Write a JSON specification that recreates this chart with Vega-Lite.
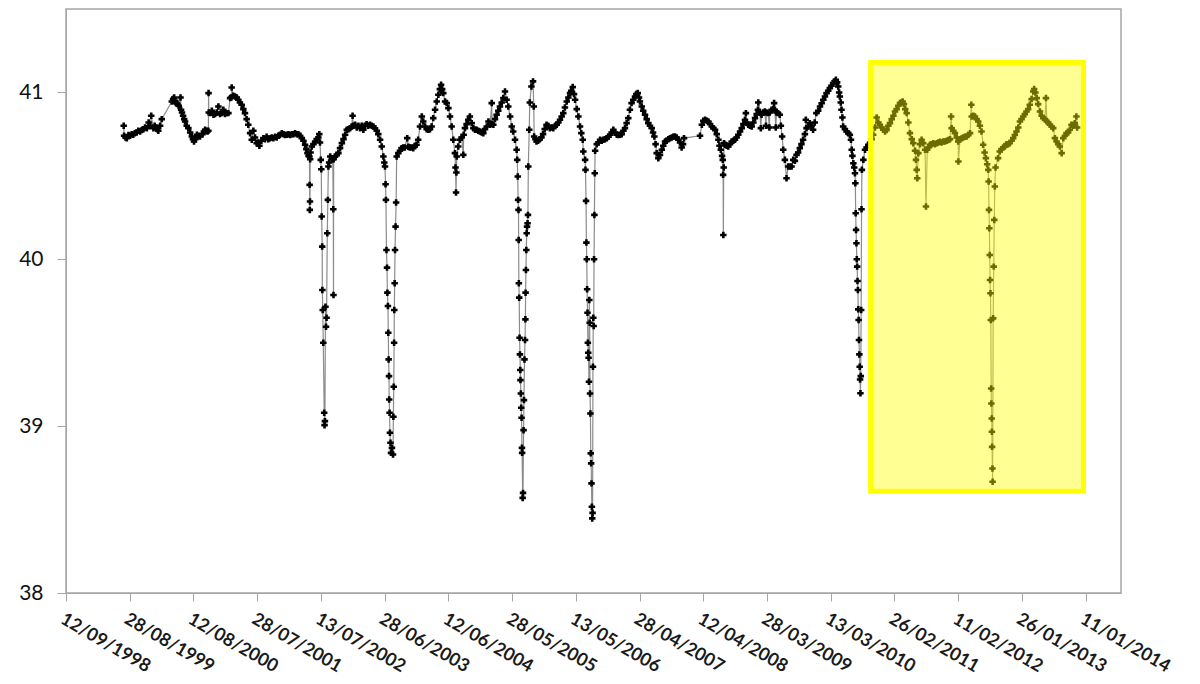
{
"$schema": "https://vega.github.io/schema/vega-lite/v6.json",
"width": 1055, "height": 584,
"autosize": {"type": "none"},
"padding": {"left": 66, "top": 9, "right": 79, "bottom": 91},
"background": "white",
"config": {"view": {"stroke": "#a6a6a6", "strokeWidth": 1.5}, "font": "Lato"},
"datasets": {
"highlight": [{"date": "2010-10-18", "date2": "2013-12-30", "value": 38.61, "value2": 41.18}],
"series": [
{"date":"1999-07-26","value":40.80},{"date":"1999-07-28","value":40.74},{"date":"1999-08-05","value":40.73},{"date":"1999-08-12","value":40.726},{"date":"1999-08-21","value":40.745},{"date":"1999-08-30","value":40.74},{"date":"1999-09-08","value":40.75},{"date":"1999-09-16","value":40.746},{"date":"1999-09-25","value":40.755},{"date":"1999-10-05","value":40.76},{"date":"1999-10-14","value":40.77},{"date":"1999-10-24","value":40.766},{"date":"1999-11-02","value":40.775},{"date":"1999-11-11","value":40.78},{"date":"1999-11-20","value":40.79},{"date":"1999-11-30","value":40.786},{"date":"1999-12-10","value":40.82},{"date":"1999-12-18","value":40.80},{"date":"1999-12-24","value":40.86},
{"date":"2000-01-05","value":40.786},{"date":"2000-01-12","value":40.80},{"date":"2000-01-19","value":40.79},{"date":"2000-01-26","value":40.78},{"date":"2000-02-01","value":40.77},{"date":"2000-02-11","value":40.80},{"date":"2000-02-20","value":40.84},{"date":"2000-04-15","value":40.946},{"date":"2000-04-22","value":40.96},{"date":"2000-04-28","value":40.97},{"date":"2000-05-04","value":40.95},{"date":"2000-05-09","value":40.936},{"date":"2000-05-16","value":40.93},{"date":"2000-05-23","value":40.92},{"date":"2000-06-02","value":40.97},{"date":"2000-06-05","value":40.896},{"date":"2000-06-10","value":40.88},{"date":"2000-06-16","value":40.86},{"date":"2000-06-22","value":40.84},{"date":"2000-06-27","value":40.826},{"date":"2000-07-06","value":40.80},{"date":"2000-07-15","value":40.786},{"date":"2000-07-25","value":40.76},{"date":"2000-08-03","value":40.736},{"date":"2000-08-09","value":40.72},{"date":"2000-08-15","value":40.706},{"date":"2000-08-23","value":40.72},{"date":"2000-08-31","value":40.746},{"date":"2000-09-08","value":40.74},{"date":"2000-09-17","value":40.736},{"date":"2000-10-01","value":40.75},{"date":"2000-10-08","value":40.765},{"date":"2000-10-15","value":40.776},{"date":"2000-10-22","value":40.77},{"date":"2000-10-28","value":40.766},{"date":"2000-11-02","value":40.77},{"date":"2000-11-03","value":40.996},{"date":"2000-11-04","value":40.88},{"date":"2000-11-12","value":40.876},{"date":"2000-11-21","value":40.89},{"date":"2000-11-30","value":40.866},{"date":"2000-12-09","value":40.87},{"date":"2000-12-18","value":40.88},{"date":"2000-12-27","value":40.916},
{"date":"2001-01-05","value":40.87},{"date":"2001-01-14","value":40.876},{"date":"2001-01-23","value":40.896},{"date":"2001-02-01","value":40.87},{"date":"2001-02-11","value":40.876},{"date":"2001-02-20","value":40.876},{"date":"2001-03-01","value":40.966},{"date":"2001-03-08","value":40.97},{"date":"2001-03-10","value":41.03},{"date":"2001-03-19","value":40.98},{"date":"2001-03-28","value":40.976},{"date":"2001-04-07","value":40.97},{"date":"2001-04-15","value":40.956},{"date":"2001-04-24","value":40.94},{"date":"2001-05-04","value":40.926},{"date":"2001-05-13","value":40.90},{"date":"2001-05-22","value":40.876},{"date":"2001-05-31","value":40.84},{"date":"2001-06-09","value":40.806},{"date":"2001-06-19","value":40.756},{"date":"2001-06-28","value":40.716},{"date":"2001-07-07","value":40.77},{"date":"2001-07-16","value":40.73},{"date":"2001-07-25","value":40.696},{"date":"2001-08-01","value":40.70},{"date":"2001-08-09","value":40.68},{"date":"2001-08-20","value":40.71},{"date":"2001-08-31","value":40.726},{"date":"2001-09-09","value":40.72},{"date":"2001-09-18","value":40.735},{"date":"2001-09-27","value":40.72},{"date":"2001-10-06","value":40.726},{"date":"2001-10-16","value":40.73},{"date":"2001-10-25","value":40.725},{"date":"2001-11-03","value":40.735},{"date":"2001-11-12","value":40.73},{"date":"2001-11-21","value":40.74},{"date":"2001-11-30","value":40.745},{"date":"2001-12-10","value":40.756},{"date":"2001-12-19","value":40.75},{"date":"2001-12-28","value":40.745},
{"date":"2002-01-07","value":40.746},{"date":"2002-01-16","value":40.75},{"date":"2002-01-25","value":40.745},{"date":"2002-02-03","value":40.75},{"date":"2002-02-12","value":40.75},{"date":"2002-02-21","value":40.755},{"date":"2002-03-03","value":40.75},{"date":"2002-03-11","value":40.75},{"date":"2002-03-21","value":40.74},{"date":"2002-03-30","value":40.726},{"date":"2002-04-08","value":40.71},{"date":"2002-04-17","value":40.686},{"date":"2002-04-24","value":40.66},{"date":"2002-04-30","value":40.636},{"date":"2002-05-06","value":40.62},{"date":"2002-05-11","value":40.616},{"date":"2002-05-12","value":40.446},{"date":"2002-05-13","value":40.296},{"date":"2002-05-14","value":40.346},{"date":"2002-05-15","value":40.60},{"date":"2002-05-17","value":40.64},{"date":"2002-05-24","value":40.676},{"date":"2002-06-02","value":40.69},{"date":"2002-06-11","value":40.706},{"date":"2002-06-20","value":40.72},{"date":"2002-06-29","value":40.73},{"date":"2002-07-04","value":40.75},{"date":"2002-07-08","value":40.70},{"date":"2002-07-12","value":40.596},{"date":"2002-07-15","value":40.54},{"date":"2002-07-17","value":40.256},{"date":"2002-07-20","value":40.076},{"date":"2002-07-21","value":39.816},{"date":"2002-07-23","value":39.696},{"date":"2002-07-26","value":39.50},{"date":"2002-07-31","value":39.08},{"date":"2002-08-02","value":39.006},{"date":"2002-08-04","value":39.03},{"date":"2002-08-07","value":39.716},{"date":"2002-08-10","value":39.596},{"date":"2002-08-13","value":39.65},{"date":"2002-08-17","value":40.156},{"date":"2002-08-20","value":40.356},{"date":"2002-08-23","value":40.556},{"date":"2002-08-27","value":40.58},{"date":"2002-09-02","value":40.616},{"date":"2002-09-11","value":40.606},{"date":"2002-09-16","value":40.60},{"date":"2002-09-19","value":40.30},{"date":"2002-09-20","value":39.786},{"date":"2002-09-21","value":40.60},{"date":"2002-09-29","value":40.616},{"date":"2002-10-08","value":40.626},{"date":"2002-10-17","value":40.636},{"date":"2002-10-26","value":40.666},{"date":"2002-11-05","value":40.696},{"date":"2002-11-14","value":40.72},{"date":"2002-11-23","value":40.746},{"date":"2002-12-02","value":40.776},{"date":"2002-12-11","value":40.78},{"date":"2002-12-20","value":40.786},{"date":"2002-12-29","value":40.796},
{"date":"2003-01-03","value":40.86},{"date":"2003-01-07","value":40.80},{"date":"2003-01-17","value":40.806},{"date":"2003-01-26","value":40.79},{"date":"2003-02-04","value":40.80},{"date":"2003-02-13","value":40.786},{"date":"2003-02-22","value":40.80},{"date":"2003-03-03","value":40.776},{"date":"2003-03-12","value":40.80},{"date":"2003-03-21","value":40.81},{"date":"2003-03-30","value":40.80},{"date":"2003-04-09","value":40.806},{"date":"2003-04-18","value":40.80},{"date":"2003-04-27","value":40.796},{"date":"2003-05-06","value":40.785},{"date":"2003-05-16","value":40.77},{"date":"2003-05-24","value":40.75},{"date":"2003-06-03","value":40.716},{"date":"2003-06-12","value":40.676},{"date":"2003-06-21","value":40.616},{"date":"2003-06-26","value":40.58},{"date":"2003-06-30","value":40.556},{"date":"2003-07-03","value":40.45},{"date":"2003-07-05","value":40.356},{"date":"2003-07-08","value":40.056},{"date":"2003-07-11","value":39.95},{"date":"2003-07-13","value":39.80},{"date":"2003-07-16","value":39.72},{"date":"2003-07-18","value":39.56},{"date":"2003-07-20","value":39.40},{"date":"2003-07-22","value":39.30},{"date":"2003-07-23","value":39.16},{"date":"2003-07-25","value":39.08},{"date":"2003-07-27","value":38.96},{"date":"2003-07-30","value":38.90},{"date":"2003-08-02","value":38.84},{"date":"2003-08-07","value":38.87},{"date":"2003-08-13","value":38.83},{"date":"2003-08-15","value":39.056},{"date":"2003-08-17","value":39.236},{"date":"2003-08-19","value":39.50},{"date":"2003-08-20","value":39.696},{"date":"2003-08-22","value":39.856},{"date":"2003-08-24","value":40.056},{"date":"2003-08-27","value":40.196},{"date":"2003-08-30","value":40.34},{"date":"2003-09-02","value":40.616},{"date":"2003-09-11","value":40.636},{"date":"2003-09-20","value":40.65},{"date":"2003-09-29","value":40.666},{"date":"2003-10-08","value":40.67},{"date":"2003-10-17","value":40.67},{"date":"2003-10-30","value":40.726},{"date":"2003-11-05","value":40.675},{"date":"2003-11-13","value":40.67},{"date":"2003-11-23","value":40.67},{"date":"2003-12-02","value":40.666},{"date":"2003-12-11","value":40.68},{"date":"2003-12-20","value":40.686},{"date":"2003-12-29","value":40.716},
{"date":"2004-01-08","value":40.796},{"date":"2004-01-18","value":40.856},{"date":"2004-01-26","value":40.826},{"date":"2004-02-05","value":40.796},{"date":"2004-02-14","value":40.78},{"date":"2004-02-23","value":40.776},{"date":"2004-03-03","value":40.78},{"date":"2004-03-12","value":40.796},{"date":"2004-03-21","value":40.846},{"date":"2004-03-31","value":40.896},{"date":"2004-04-09","value":40.946},{"date":"2004-04-18","value":40.986},{"date":"2004-04-26","value":41.02},{"date":"2004-05-03","value":41.046},{"date":"2004-05-09","value":41.02},{"date":"2004-05-15","value":40.996},{"date":"2004-05-25","value":40.946},{"date":"2004-06-03","value":40.936},{"date":"2004-06-12","value":40.906},{"date":"2004-06-21","value":40.856},{"date":"2004-06-30","value":40.796},{"date":"2004-07-09","value":40.716},{"date":"2004-07-18","value":40.636},{"date":"2004-07-21","value":40.55},{"date":"2004-07-24","value":40.40},{"date":"2004-07-26","value":40.52},{"date":"2004-07-28","value":40.616},{"date":"2004-08-05","value":40.676},{"date":"2004-08-14","value":40.716},{"date":"2004-08-24","value":40.73},{"date":"2004-09-02","value":40.626},{"date":"2004-09-04","value":40.746},{"date":"2004-09-11","value":40.786},{"date":"2004-09-20","value":40.81},{"date":"2004-09-29","value":40.836},{"date":"2004-10-08","value":40.856},{"date":"2004-10-18","value":40.816},{"date":"2004-10-27","value":40.786},{"date":"2004-11-05","value":40.776},{"date":"2004-11-14","value":40.776},{"date":"2004-11-23","value":40.77},{"date":"2004-12-02","value":40.766},{"date":"2004-12-12","value":40.76},{"date":"2004-12-21","value":40.756},{"date":"2004-12-30","value":40.78},
{"date":"2005-01-09","value":40.796},{"date":"2005-01-18","value":40.826},{"date":"2005-01-27","value":40.806},{"date":"2005-02-05","value":40.936},{"date":"2005-02-07","value":40.81},{"date":"2005-02-14","value":40.806},{"date":"2005-02-23","value":40.84},{"date":"2005-03-04","value":40.866},{"date":"2005-03-13","value":40.89},{"date":"2005-03-22","value":40.916},{"date":"2005-04-01","value":40.94},{"date":"2005-04-10","value":40.966},{"date":"2005-04-19","value":41.006},{"date":"2005-04-28","value":40.956},{"date":"2005-05-07","value":40.916},{"date":"2005-05-17","value":40.856},{"date":"2005-05-26","value":40.796},{"date":"2005-06-03","value":40.766},{"date":"2005-06-13","value":40.716},{"date":"2005-06-22","value":40.656},{"date":"2005-06-25","value":40.596},{"date":"2005-06-28","value":40.496},{"date":"2005-06-30","value":40.356},{"date":"2005-07-02","value":40.296},{"date":"2005-07-03","value":40.116},{"date":"2005-07-04","value":39.856},{"date":"2005-07-06","value":39.77},{"date":"2005-07-08","value":39.53},{"date":"2005-07-10","value":39.43},{"date":"2005-07-12","value":39.336},{"date":"2005-07-13","value":39.276},{"date":"2005-07-15","value":39.196},{"date":"2005-07-17","value":39.11},{"date":"2005-07-19","value":39.05},{"date":"2005-07-21","value":38.87},{"date":"2005-07-22","value":38.84},{"date":"2005-07-25","value":38.57},{"date":"2005-07-27","value":38.60},{"date":"2005-07-30","value":38.976},{"date":"2005-08-01","value":39.156},{"date":"2005-08-04","value":39.40},{"date":"2005-08-07","value":39.516},{"date":"2005-08-09","value":39.64},{"date":"2005-08-10","value":39.80},{"date":"2005-08-12","value":39.936},{"date":"2005-08-14","value":40.056},{"date":"2005-08-16","value":40.156},{"date":"2005-08-18","value":40.196},{"date":"2005-08-21","value":40.216},{"date":"2005-08-23","value":40.266},{"date":"2005-08-25","value":40.556},{"date":"2005-08-30","value":40.776},{"date":"2005-09-02","value":40.94},{"date":"2005-09-11","value":41.036},{"date":"2005-09-20","value":41.066},{"date":"2005-09-24","value":40.916},{"date":"2005-09-26","value":40.736},{"date":"2005-10-03","value":40.72},{"date":"2005-10-09","value":40.706},{"date":"2005-10-18","value":40.71},{"date":"2005-10-27","value":40.72},{"date":"2005-11-05","value":40.73},{"date":"2005-11-14","value":40.75},{"date":"2005-11-23","value":40.78},{"date":"2005-12-03","value":40.806},{"date":"2005-12-12","value":40.80},{"date":"2005-12-21","value":40.786},
{"date":"2006-01-01","value":40.79},{"date":"2006-01-09","value":40.786},{"date":"2006-01-19","value":40.80},{"date":"2006-01-28","value":40.806},{"date":"2006-02-06","value":40.82},{"date":"2006-02-15","value":40.836},{"date":"2006-02-24","value":40.856},{"date":"2006-03-05","value":40.876},{"date":"2006-03-14","value":40.91},{"date":"2006-03-24","value":40.946},{"date":"2006-04-02","value":40.97},{"date":"2006-04-11","value":40.996},{"date":"2006-04-18","value":41.01},{"date":"2006-04-26","value":41.032},{"date":"2006-05-03","value":40.99},{"date":"2006-05-09","value":40.956},{"date":"2006-05-18","value":40.90},{"date":"2006-05-27","value":40.856},{"date":"2006-06-05","value":40.796},{"date":"2006-06-12","value":40.756},{"date":"2006-06-20","value":40.716},{"date":"2006-06-23","value":40.646},{"date":"2006-07-03","value":40.596},{"date":"2006-07-05","value":40.536},{"date":"2006-07-08","value":40.35},{"date":"2006-07-10","value":40.10},{"date":"2006-07-12","value":40.00},{"date":"2006-07-14","value":39.82},{"date":"2006-07-16","value":39.68},{"date":"2006-07-18","value":39.50},{"date":"2006-07-20","value":39.44},{"date":"2006-07-22","value":39.41},{"date":"2006-07-24","value":39.266},{"date":"2006-07-26","value":39.756},{"date":"2006-07-28","value":39.62},{"date":"2006-07-30","value":39.196},{"date":"2006-08-01","value":39.076},{"date":"2006-08-03","value":38.837},{"date":"2006-08-05","value":38.777},{"date":"2006-08-07","value":38.657},{"date":"2006-08-09","value":38.517},{"date":"2006-08-11","value":38.447},{"date":"2006-08-13","value":38.48},{"date":"2006-08-15","value":39.356},{"date":"2006-08-17","value":39.65},{"date":"2006-08-19","value":39.60},{"date":"2006-08-21","value":40.00},{"date":"2006-08-23","value":40.266},{"date":"2006-08-25","value":40.516},{"date":"2006-08-27","value":40.65},{"date":"2006-09-05","value":40.69},{"date":"2006-09-14","value":40.70},{"date":"2006-09-23","value":40.716},{"date":"2006-10-02","value":40.71},{"date":"2006-10-11","value":40.716},{"date":"2006-10-20","value":40.72},{"date":"2006-10-30","value":40.726},{"date":"2006-11-08","value":40.735},{"date":"2006-11-17","value":40.746},{"date":"2006-11-26","value":40.76},{"date":"2006-12-05","value":40.776},{"date":"2006-12-14","value":40.76},{"date":"2006-12-24","value":40.746},
{"date":"2007-01-01","value":40.745},{"date":"2007-01-11","value":40.746},{"date":"2007-01-20","value":40.75},{"date":"2007-01-29","value":40.77},{"date":"2007-02-07","value":40.786},{"date":"2007-02-16","value":40.816},{"date":"2007-02-25","value":40.846},{"date":"2007-03-06","value":40.896},{"date":"2007-03-15","value":40.936},{"date":"2007-03-24","value":40.956},{"date":"2007-04-03","value":40.976},{"date":"2007-04-10","value":40.99},{"date":"2007-04-18","value":40.996},{"date":"2007-04-25","value":40.97},{"date":"2007-04-30","value":40.946},{"date":"2007-05-10","value":40.916},{"date":"2007-05-18","value":40.89},{"date":"2007-05-28","value":40.866},{"date":"2007-06-06","value":40.84},{"date":"2007-06-15","value":40.816},{"date":"2007-06-24","value":40.80},{"date":"2007-07-04","value":40.786},{"date":"2007-07-11","value":40.76},{"date":"2007-07-18","value":40.736},{"date":"2007-07-25","value":40.69},{"date":"2007-07-31","value":40.636},{"date":"2007-08-09","value":40.606},{"date":"2007-08-18","value":40.626},{"date":"2007-08-28","value":40.656},{"date":"2007-09-05","value":40.68},{"date":"2007-09-15","value":40.706},{"date":"2007-09-24","value":40.71},{"date":"2007-10-03","value":40.72},{"date":"2007-10-12","value":40.725},{"date":"2007-10-22","value":40.73},{"date":"2007-10-30","value":40.735},{"date":"2007-11-08","value":40.736},{"date":"2007-11-18","value":40.73},{"date":"2007-11-27","value":40.716},{"date":"2007-12-06","value":40.70},{"date":"2007-12-15","value":40.67},{"date":"2007-12-23","value":40.69},{"date":"2007-12-28","value":40.726},
{"date":"2008-03-25","value":40.74},{"date":"2008-04-04","value":40.806},{"date":"2008-04-12","value":40.83},{"date":"2008-04-22","value":40.836},{"date":"2008-05-01","value":40.83},{"date":"2008-05-10","value":40.826},{"date":"2008-05-19","value":40.81},{"date":"2008-05-29","value":40.796},{"date":"2008-06-06","value":40.785},{"date":"2008-06-16","value":40.776},{"date":"2008-06-25","value":40.75},{"date":"2008-07-04","value":40.716},{"date":"2008-07-10","value":40.68},{"date":"2008-07-17","value":40.656},{"date":"2008-07-24","value":40.62},{"date":"2008-07-28","value":40.596},{"date":"2008-07-30","value":40.506},{"date":"2008-07-31","value":40.146},{"date":"2008-08-02","value":40.55},{"date":"2008-08-04","value":40.696},{"date":"2008-08-09","value":40.686},{"date":"2008-08-18","value":40.68},{"date":"2008-08-27","value":40.676},{"date":"2008-09-06","value":40.69},{"date":"2008-09-15","value":40.706},{"date":"2008-09-24","value":40.71},{"date":"2008-10-03","value":40.716},{"date":"2008-10-12","value":40.73},{"date":"2008-10-21","value":40.746},{"date":"2008-10-31","value":40.766},{"date":"2008-11-09","value":40.786},{"date":"2008-11-18","value":40.81},{"date":"2008-11-27","value":40.836},{"date":"2008-12-02","value":40.876},{"date":"2008-12-06","value":40.82},{"date":"2008-12-15","value":40.806},{"date":"2008-12-24","value":40.80},
{"date":"2009-01-03","value":40.796},{"date":"2009-01-12","value":40.82},{"date":"2009-01-21","value":40.846},{"date":"2009-01-30","value":40.87},{"date":"2009-02-06","value":40.896},{"date":"2009-02-08","value":40.94},{"date":"2009-02-17","value":40.88},{"date":"2009-02-22","value":40.786},{"date":"2009-02-26","value":40.866},{"date":"2009-03-07","value":40.88},{"date":"2009-03-16","value":40.886},{"date":"2009-03-22","value":40.80},{"date":"2009-03-25","value":40.88},{"date":"2009-04-03","value":40.876},{"date":"2009-04-10","value":40.79},{"date":"2009-04-12","value":40.88},{"date":"2009-04-22","value":40.896},{"date":"2009-05-01","value":40.90},{"date":"2009-05-06","value":40.936},{"date":"2009-05-10","value":40.896},{"date":"2009-05-15","value":40.79},{"date":"2009-05-19","value":40.88},{"date":"2009-05-28","value":40.876},{"date":"2009-06-06","value":40.866},{"date":"2009-06-12","value":40.80},{"date":"2009-06-19","value":40.736},{"date":"2009-06-25","value":40.656},{"date":"2009-07-04","value":40.596},{"date":"2009-07-13","value":40.486},{"date":"2009-07-22","value":40.556},{"date":"2009-08-01","value":40.556},{"date":"2009-08-10","value":40.556},{"date":"2009-08-19","value":40.596},{"date":"2009-08-28","value":40.59},{"date":"2009-09-06","value":40.626},{"date":"2009-09-15","value":40.64},{"date":"2009-09-24","value":40.666},{"date":"2009-10-03","value":40.69},{"date":"2009-10-12","value":40.716},{"date":"2009-10-22","value":40.75},{"date":"2009-10-27","value":40.836},{"date":"2009-10-31","value":40.786},{"date":"2009-11-09","value":40.796},{"date":"2009-11-18","value":40.816},{"date":"2009-11-27","value":40.80},{"date":"2009-12-06","value":40.776},{"date":"2009-12-15","value":40.82},{"date":"2009-12-24","value":40.876},
{"date":"2010-01-03","value":40.89},{"date":"2010-01-13","value":40.916},{"date":"2010-01-22","value":40.935},{"date":"2010-01-31","value":40.956},{"date":"2010-02-09","value":40.976},{"date":"2010-02-18","value":40.996},{"date":"2010-02-27","value":41.01},{"date":"2010-03-08","value":41.026},{"date":"2010-03-17","value":41.04},{"date":"2010-03-26","value":41.056},{"date":"2010-04-03","value":41.066},{"date":"2010-04-10","value":41.076},{"date":"2010-04-17","value":41.06},{"date":"2010-04-23","value":41.036},{"date":"2010-04-28","value":41.00},{"date":"2010-05-02","value":40.976},{"date":"2010-05-07","value":40.94},{"date":"2010-05-11","value":40.896},{"date":"2010-05-16","value":40.85},{"date":"2010-05-20","value":40.796},{"date":"2010-05-30","value":40.78},{"date":"2010-06-08","value":40.766},{"date":"2010-06-17","value":40.756},{"date":"2010-06-26","value":40.746},{"date":"2010-07-02","value":40.716},{"date":"2010-07-06","value":40.656},{"date":"2010-07-10","value":40.62},{"date":"2010-07-15","value":40.576},{"date":"2010-07-20","value":40.55},{"date":"2010-07-24","value":40.516},{"date":"2010-07-26","value":40.456},{"date":"2010-07-28","value":40.276},{"date":"2010-07-30","value":40.176},{"date":"2010-08-01","value":40.096},{"date":"2010-08-03","value":40.00},{"date":"2010-08-05","value":39.956},{"date":"2010-08-07","value":39.87},{"date":"2010-08-09","value":39.816},{"date":"2010-08-11","value":39.70},{"date":"2010-08-13","value":39.636},{"date":"2010-08-15","value":39.516},{"date":"2010-08-17","value":39.43},{"date":"2010-08-19","value":39.356},{"date":"2010-08-21","value":39.28},{"date":"2010-08-23","value":39.197},{"date":"2010-08-25","value":39.30},{"date":"2010-08-27","value":39.696},{"date":"2010-08-29","value":40.30},{"date":"2010-08-31","value":40.536},{"date":"2010-09-08","value":40.596},{"date":"2010-09-17","value":40.656},{"date":"2010-09-26","value":40.67},{"date":"2010-10-05","value":40.686},{"date":"2010-10-14","value":40.696},{"date":"2010-10-24","value":40.72},{"date":"2010-11-01","value":40.746},{"date":"2010-11-11","value":40.79},{"date":"2010-11-20","value":40.85},{"date":"2010-11-29","value":40.82},{"date":"2010-12-08","value":40.806},{"date":"2010-12-17","value":40.79},{"date":"2010-12-26","value":40.776},
{"date":"2011-01-05","value":40.766},{"date":"2011-01-14","value":40.775},{"date":"2011-01-23","value":40.80},{"date":"2011-02-01","value":40.816},{"date":"2011-02-11","value":40.84},{"date":"2011-02-20","value":40.86},{"date":"2011-03-01","value":40.886},{"date":"2011-03-10","value":40.90},{"date":"2011-03-19","value":40.92},{"date":"2011-03-28","value":40.936},{"date":"2011-04-05","value":40.94},{"date":"2011-04-12","value":40.946},{"date":"2011-04-19","value":40.93},{"date":"2011-04-26","value":40.90},{"date":"2011-05-04","value":40.876},{"date":"2011-05-13","value":40.82},{"date":"2011-05-22","value":40.756},{"date":"2011-06-01","value":40.72},{"date":"2011-06-09","value":40.696},{"date":"2011-06-19","value":40.65},{"date":"2011-06-24","value":40.596},{"date":"2011-06-28","value":40.536},{"date":"2011-07-01","value":40.486},{"date":"2011-07-07","value":40.636},{"date":"2011-07-16","value":40.69},{"date":"2011-07-25","value":40.716},{"date":"2011-08-03","value":40.696},{"date":"2011-08-13","value":40.656},{"date":"2011-08-18","value":40.316},{"date":"2011-08-25","value":40.656},{"date":"2011-09-01","value":40.67},{"date":"2011-09-09","value":40.686},{"date":"2011-09-18","value":40.69},{"date":"2011-09-27","value":40.696},{"date":"2011-10-06","value":40.69},{"date":"2011-10-16","value":40.696},{"date":"2011-10-25","value":40.70},{"date":"2011-11-03","value":40.705},{"date":"2011-11-12","value":40.70},{"date":"2011-11-21","value":40.706},{"date":"2011-11-30","value":40.706},{"date":"2011-12-10","value":40.71},{"date":"2011-12-19","value":40.715},{"date":"2011-12-28","value":40.72},
{"date":"2012-01-03","value":40.856},{"date":"2012-01-06","value":40.786},{"date":"2012-01-15","value":40.77},{"date":"2012-01-24","value":40.756},{"date":"2012-02-03","value":40.73},{"date":"2012-02-11","value":40.706},{"date":"2012-02-12","value":40.586},{"date":"2012-02-21","value":40.72},{"date":"2012-03-01","value":40.726},{"date":"2012-03-10","value":40.73},{"date":"2012-03-19","value":40.735},{"date":"2012-03-28","value":40.736},{"date":"2012-04-06","value":40.745},{"date":"2012-04-16","value":40.756},{"date":"2012-04-23","value":40.926},{"date":"2012-04-25","value":40.856},{"date":"2012-05-04","value":40.86},{"date":"2012-05-13","value":40.856},{"date":"2012-05-22","value":40.84},{"date":"2012-05-31","value":40.826},{"date":"2012-06-09","value":40.80},{"date":"2012-06-18","value":40.766},{"date":"2012-06-27","value":40.686},{"date":"2012-07-05","value":40.64},{"date":"2012-07-12","value":40.606},{"date":"2012-07-19","value":40.57},{"date":"2012-07-25","value":40.536},{"date":"2012-07-27","value":40.466},{"date":"2012-07-29","value":40.296},{"date":"2012-07-31","value":40.186},{"date":"2012-08-02","value":40.026},{"date":"2012-08-04","value":39.876},{"date":"2012-08-06","value":39.796},{"date":"2012-08-08","value":39.636},{"date":"2012-08-10","value":39.226},{"date":"2012-08-11","value":39.136},{"date":"2012-08-13","value":39.046},{"date":"2012-08-14","value":38.966},{"date":"2012-08-15","value":38.876},{"date":"2012-08-17","value":38.746},{"date":"2012-08-18","value":38.667},{"date":"2012-08-21","value":39.646},{"date":"2012-08-24","value":39.956},{"date":"2012-08-27","value":40.236},{"date":"2012-08-30","value":40.436},{"date":"2012-09-03","value":40.55},{"date":"2012-09-17","value":40.606},{"date":"2012-09-26","value":40.646},{"date":"2012-10-06","value":40.66},{"date":"2012-10-15","value":40.67},{"date":"2012-10-24","value":40.676},{"date":"2012-11-02","value":40.69},{"date":"2012-11-11","value":40.69},{"date":"2012-11-20","value":40.696},{"date":"2012-11-30","value":40.71},{"date":"2012-12-09","value":40.726},{"date":"2012-12-18","value":40.745},{"date":"2012-12-27","value":40.766},
{"date":"2013-01-06","value":40.79},{"date":"2013-01-15","value":40.826},{"date":"2013-01-24","value":40.84},{"date":"2013-02-02","value":40.856},{"date":"2013-02-11","value":40.87},{"date":"2013-02-20","value":40.886},{"date":"2013-03-01","value":40.90},{"date":"2013-03-10","value":40.926},{"date":"2013-03-20","value":40.96},{"date":"2013-03-29","value":41.006},{"date":"2013-04-03","value":41.02},{"date":"2013-04-10","value":41.00},{"date":"2013-04-17","value":40.966},{"date":"2013-04-25","value":40.93},{"date":"2013-05-05","value":40.886},{"date":"2013-05-14","value":40.86},{"date":"2013-05-23","value":40.846},{"date":"2013-06-01","value":40.84},{"date":"2013-06-07","value":40.966},{"date":"2013-06-12","value":40.826},{"date":"2013-06-19","value":40.82},{"date":"2013-06-29","value":40.806},{"date":"2013-07-08","value":40.796},{"date":"2013-07-17","value":40.786},{"date":"2013-07-26","value":40.726},{"date":"2013-08-04","value":40.706},{"date":"2013-08-13","value":40.69},{"date":"2013-08-22","value":40.676},{"date":"2013-09-01","value":40.636},{"date":"2013-09-10","value":40.726},{"date":"2013-09-19","value":40.74},{"date":"2013-09-28","value":40.756},{"date":"2013-10-07","value":40.76},{"date":"2013-10-16","value":40.776},{"date":"2013-10-25","value":40.806},{"date":"2013-11-03","value":40.80},{"date":"2013-11-12","value":40.816},{"date":"2013-11-21","value":40.856},{"date":"2013-11-25","value":40.79}
]},
"encoding": {
  "x": {"field": "date", "type": "temporal", "title": null,
    "scale": {"type": "utc", "domain": [{"year": 1998, "month": 9, "date": 12, "utc": true}, {"year": 2014, "month": 7, "date": 24, "utc": true}]},
    "axis": {"values": [
      {"year": 1998, "month": 9, "date": 12, "utc": true},
      {"year": 1999, "month": 8, "date": 28, "utc": true},
      {"year": 2000, "month": 8, "date": 12, "utc": true},
      {"year": 2001, "month": 7, "date": 28, "utc": true},
      {"year": 2002, "month": 7, "date": 13, "utc": true},
      {"year": 2003, "month": 6, "date": 28, "utc": true},
      {"year": 2004, "month": 6, "date": 12, "utc": true},
      {"year": 2005, "month": 5, "date": 28, "utc": true},
      {"year": 2006, "month": 5, "date": 13, "utc": true},
      {"year": 2007, "month": 4, "date": 28, "utc": true},
      {"year": 2008, "month": 4, "date": 12, "utc": true},
      {"year": 2009, "month": 3, "date": 28, "utc": true},
      {"year": 2010, "month": 3, "date": 13, "utc": true},
      {"year": 2011, "month": 2, "date": 26, "utc": true},
      {"year": 2012, "month": 2, "date": 11, "utc": true},
      {"year": 2013, "month": 1, "date": 26, "utc": true},
      {"year": 2014, "month": 1, "date": 11, "utc": true}],
      "labelExpr": "utcFormat(datum.value, '%d/%m/%Y')",
      "labelAngle": 30, "labelAlign": "left", "labelBaseline": "top",
      "labelFontSize": 18, "labelFontWeight": "bold", "labelColor": "#1a1a1a",
      "labelPadding": 9, "labelOverlap": false, "labelFlush": false, "labelBound": false,
      "tickSize": 8, "tickColor": "#a6a6a6", "domainColor": "#a6a6a6", "grid": false}},
  "y": {"field": "value", "type": "quantitative", "title": null,
    "scale": {"domain": [38, 41.5], "nice": false, "zero": false},
    "axis": {"values": [38, 39, 40, 41], "format": "d", "labelFontSize": 21, "labelColor": "#111111",
      "labelPadding": 14, "tickSize": 9, "tickColor": "#a6a6a6", "domainColor": "#a6a6a6", "grid": false}}
},
"layer": [
  {"data": {"name": "series"}, "mark": {"type": "line", "color": "#8c8c8c", "strokeWidth": 1.2}},
  {"data": {"name": "series"}, "mark": {"type": "point", "shape": "cross", "filled": true, "color": "#000000", "size": 42, "opacity": 1}},
  {"data": {"name": "highlight"}, "mark": {"type": "rect", "fill": "#ffff00", "fillOpacity": 0.42, "stroke": "#ffff00", "strokeWidth": 5},
   "encoding": {"x2": {"field": "date2"}, "y2": {"field": "value2"}}}
]
}
